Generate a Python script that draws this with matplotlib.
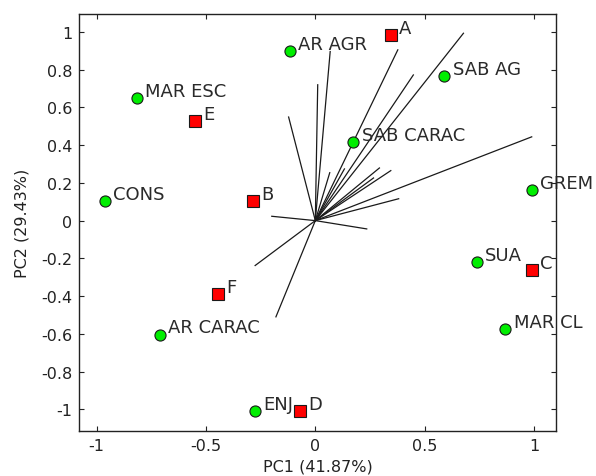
import matplotlib
matplotlib.use('Agg')
import matplotlib.pyplot as plt

plt.rcParams['font.family'] = ['DejaVu Sans']

# ----------------------- #
# Data
# ----------------------- #
# green circles (scores)
green_names = ['AR AGR', 'MAR ESC', 'CONS', 'SAB AG', 'SAB CARAC', 'GREM',
               'SUA', 'MAR CL', 'AR CARAC', 'ENJ']
green_x = [-0.117, -0.817, -0.962, 0.590, 0.174, 0.991, 0.737, 0.869, -0.711, -0.277]
green_y = [0.898, 0.652, 0.105, 0.766, 0.414, 0.161, -0.221, -0.574, -0.604, -1.010]

# red squares
red_names = ['A', 'B', 'C', 'D', 'E', 'F']
red_x = [0.344, -0.284, 0.991, -0.072, -0.550, -0.444]
red_y = [0.983, 0.105, -0.260, -1.010, 0.530, -0.389]

# loading vectors (end points, all start at origin)
load_x = [0.068, 0.011, -0.122, 0.377, 0.448, 0.677, 0.989, 0.345, 0.293,
          0.381, 0.235, -0.199, -0.275, -0.180, 0.066, 0.133, 0.266]
load_y = [0.896, 0.720, 0.549, 0.905, 0.772, 0.993, 0.444, 0.265, 0.279,
          0.116, -0.044, 0.023, -0.238, -0.510, 0.254, 0.274, 0.226]

x_ticks = [-1, -0.5, 0, 0.5, 1]
x_ticklabels = ['-1', '-0.5', '0', '0.5', '1']
y_ticks = [-1, -0.8, -0.6, -0.4, -0.2, 0, 0.2, 0.4, 0.6, 0.8, 1]
y_ticklabels = ['-1', '-0.8', '-0.6', '-0.4', '-0.2', '0', '0.2', '0.4', '0.6', '0.8', '1']

# ----------------------- #
# Figure
# ----------------------- #
fig = plt.figure(figsize=(5.96, 4.77), dpi=100)
ax = fig.add_axes([79/596, 1 - 432/477, (556 - 79)/596, (432 - 15)/477])

for lx, ly in zip(load_x, load_y):
    ax.plot([0, lx], [0, ly], color='#1a1a1a', linewidth=0.9, zorder=1)

ax.plot(green_x, green_y, 'o', markersize=8, markerfacecolor='#00ee00',
        markeredgecolor='#1a1a1a', markeredgewidth=0.8, linestyle='none', zorder=3)
ax.plot(red_x, red_y, 's', markersize=8, markerfacecolor='#ff0000',
        markeredgecolor='#1a1a1a', markeredgewidth=0.8, linestyle='none', zorder=3)

for name, x, y in zip(green_names + red_names, green_x + red_x, green_y + red_y):
    ax.annotate(name, (x, y), xytext=(6, 1.5), textcoords='offset points',
                ha='left', va='baseline', fontsize=13, color='#2a2a2a',
                annotation_clip=False, zorder=2)

ax.set_xlim(-1.08, 1.10)
ax.set_ylim(-1.115, 1.095)
ax.set_xticks(x_ticks)
ax.set_xticklabels(x_ticklabels)
ax.set_yticks(y_ticks)
ax.set_yticklabels(y_ticklabels)
ax.tick_params(direction='in', top=True, right=True, length=3.6, width=0.8,
               labelsize=11.5, colors='#222222', pad=5)
for s in ax.spines.values():
    s.set_linewidth(1.0)
    s.set_color('#222222')
    s.set_zorder(4)

ax.set_xlabel('PC1 (41.87%)', fontsize=11.5, color='#222222', va='center')
ax.set_ylabel('PC2 (29.43%)', fontsize=11.5, color='#222222', va='center')
ax.xaxis.set_label_coords(0.5, -0.084)
ax.yaxis.set_label_coords(-0.12, 0.5)

fig.savefig('out.png', dpi=100)
